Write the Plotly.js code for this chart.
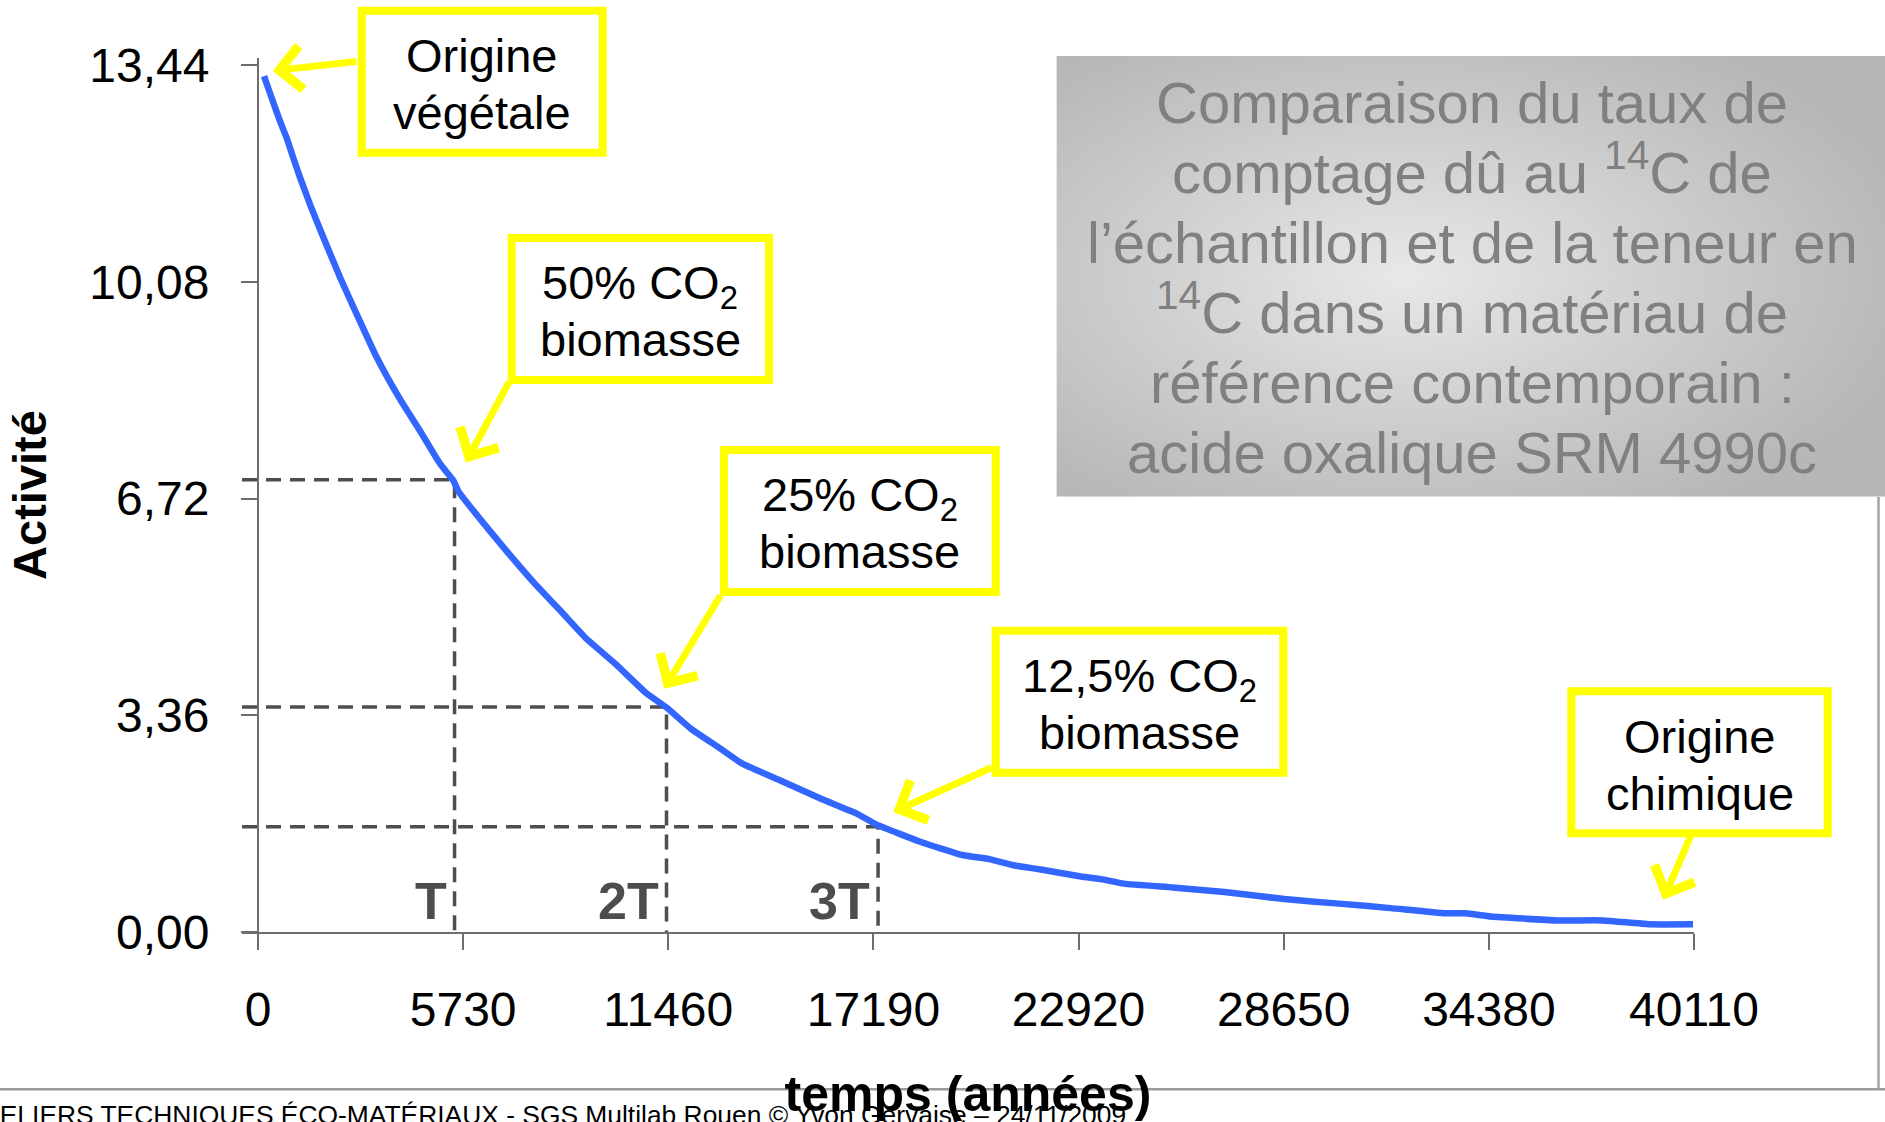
<!DOCTYPE html>
<html>
<head>
<meta charset="utf-8">
<script src="https://cdn.plot.ly/plotly-3.0.1.min.js"></script>
<style>
  html, body { margin: 0; padding: 0; background: #ffffff; }
  #chart { width: 1885px; height: 1122px; }
</style>
</head>
<body>
<div id="chart"></div>
<script>
// ---------- data ----------
const years = [168, 382, 614, 801, 986, 1173, 1452, 1824, 2290, 2756, 3315, 3966, 4524, 5083, 5455,
  5611, 6237, 6921, 7731, 8480, 9167, 9977, 10848, 11410, 12097, 12845, 13530, 14591, 15711, 16711,
  17297, 18498, 19699, 20423, 21143, 21863, 22986, 23545, 24187, 25550, 26992, 28672, 30196, 31639,
  33162, 33722, 34443, 36287, 37567, 38851, 40083];
const activity = [13.27, 12.93, 12.57, 12.31, 12.00, 11.70, 11.28, 10.77, 10.15, 9.58, 8.91, 8.26, 7.77, 7.26, 7.00,
  6.82, 6.38, 5.92, 5.40, 4.96, 4.55, 4.16, 3.70, 3.48, 3.15, 2.87, 2.61, 2.35, 2.07, 1.84,
  1.66, 1.40, 1.19, 1.13, 1.03, 0.97, 0.86, 0.82, 0.75, 0.69, 0.62, 0.51, 0.44, 0.37,
  0.29, 0.29, 0.24, 0.18, 0.18, 0.12, 0.12];

const xTickValues = [0, 5730, 11460, 17190, 22920, 28650, 34380, 40110];
const xTickLabels = ['0', '5730', '11460', '17190', '22920', '28650', '34380', '40110'];
const yTickValues = [0, 3.36, 6.72, 10.08, 13.44];
const yTickLabels = ['0,00', '3,36', '6,72', '10,08', '13,44'];

// half-life guide lines (T, 2T, 3T)
const periodLabels = ['T', '2T', '3T'];
const periodYears = [5490, 11410, 17320];
const periodActivity = [7.01, 3.49, 1.63];

// yellow call-outs: arrow head and arrow tail in data units
const calloutLines = [
  ['Origine', 'végétale'],
  ['50% CO<sub>2</sub>', 'biomasse'],
  ['25% CO<sub>2</sub>', 'biomasse'],
  ['12,5% CO<sub>2</sub>', 'biomasse'],
  ['Origine', 'chimique']
];
const calloutHeadYears = [410, 5804, 11348, 17744, 39251];
const calloutHeadActivity = [13.35, 7.28, 3.77, 1.86, 0.50];
const calloutTailYears = [2793, 7038, 12943, 20537, 40088];
const calloutTailActivity = [13.50, 8.55, 5.24, 2.56, 1.58];

const infoLines = [
  'Comparaison du taux de',
  'comptage dû au <sup>14</sup>C de',
  'l’échantillon et de la teneur en',
  '<sup>14</sup>C dans un matériau de',
  'référence contemporain :',
  'acide oxalique SRM 4990c'
];
const footerText = 'ATELIERS TECHNIQUES ÉCO-MATÉRIAUX - SGS Multilab Rouen © Yvon Gervaise – 24/11/2009';

// ---------- layout geometry (pixels of the 1885 x 1122 page) ----------
const W = 1885, H = 1122;
const M = { l: 242, r: 191, t: 58, b: 190 };
const PW = W - M.l - M.r, PH = H - M.t - M.b;
const fx = p => (p - M.l) / PW;
const fy = p => (M.t + PH - p) / PH;
const xRange = [-447, 40110];
const yRange = [0, 13.55];
const FONT = 'Liberation Sans, Arial, Helvetica, sans-serif';
const YELLOW = '#ffff00';

// call-out boxes [left, top, right, bottom] outer edges, pixels
const calloutBoxes = [
  [357.7, 6.7, 606.7, 156.7],
  [507.7, 234, 773, 384],
  [720, 446, 999.7, 596],
  [991.7, 626.7, 1287.3, 776.7],
  [1567.3, 687.3, 1831.7, 837.3]
];

// ---------- traces ----------
const traces = [];
periodYears.forEach((t, i) => {
  traces.push({
    type: 'scatter', mode: 'lines',
    x: [xRange[0], t, t], y: [periodActivity[i], periodActivity[i], 0],
    line: { color: '#4d4d4d', width: 3.5, dash: '15px,9px' },
    hoverinfo: 'skip', showlegend: false
  });
});
traces.push({
  type: 'scatter', mode: 'lines', x: years, y: activity,
  line: { color: '#3366ff', width: 6.5, shape: 'spline', smoothing: 0.4 },
  showlegend: false
});

// ---------- shapes, annotations ----------
const shapes = [];
const annotations = [];
const BW = 8;
calloutBoxes.forEach((b, i) => {
  shapes.push({
    type: 'rect', xref: 'paper', yref: 'paper', layer: 'above',
    x0: fx(b[0] + BW / 2), x1: fx(b[2] - BW / 2), y0: fy(b[3] - BW / 2), y1: fy(b[1] + BW / 2),
    line: { color: YELLOW, width: BW }, fillcolor: 'rgba(255,255,255,0)'
  });
  const cx = (b[0] + b[2]) / 2, cy = (b[1] + b[3]) / 2;
  const fs = 47;
  const baselines = [cy - 11, cy + 46];
  calloutLines[i].forEach((txt, k) => {
    annotations.push({
      xref: 'paper', yref: 'paper', x: fx(cx), y: fy(baselines[k] - 0.905 * fs - 1),
      xanchor: 'center', yanchor: 'top', showarrow: false, text: txt,
      font: { family: FONT, size: fs, color: '#000000' }
    });
  });
  annotations.push({
    xref: 'x', yref: 'y', axref: 'x', ayref: 'y',
    x: calloutHeadYears[i], y: calloutHeadActivity[i],
    ax: calloutTailYears[i], ay: calloutTailActivity[i],
    text: '', showarrow: true, arrowhead: 4, arrowsize: 1.2,
    arrowwidth: 7, arrowcolor: YELLOW, standoff: 0, startstandoff: 0
  });
});

// half-life labels
periodLabels.forEach((lab, i) => {
  annotations.push({
    xref: 'x', yref: 'paper', x: periodYears[i], y: fy(918.3 - 0.905 * 52 - 1),
    xanchor: 'right', yanchor: 'top', xshift: -6, showarrow: false, text: '<b>' + lab + '</b>',
    font: { family: FONT, size: 52, color: '#4d4d4d' }
  });
});

// grey information panel
const gradSvg = "<svg xmlns='http://www.w3.org/2000/svg' width='830' height='441' viewBox='0 0 830 441' preserveAspectRatio='none'>" +
  "<defs><radialGradient id='g' cx='0.42' cy='0.5' r='0.62'>" +
  "<stop offset='0' stop-color='#e8e8e8'/><stop offset='1' stop-color='#b7b7b7'/></radialGradient></defs>" +
  "<rect width='830' height='441' fill='url(#g)'/></svg>";
const images = [{
  source: 'data:image/svg+xml;charset=utf-8,' + encodeURIComponent(gradSvg),
  xref: 'paper', yref: 'paper', x: fx(1056.4), y: fy(56), xanchor: 'left', yanchor: 'top',
  sizex: (W - 1056.4) / PW, sizey: (496.7 - 56) / PH, sizing: 'stretch', layer: 'below'
}];
infoLines.forEach((txt, k) => {
  const baseline = 123.8 + 70 * k;
  annotations.push({
    xref: 'paper', yref: 'paper', x: fx(1472), y: fy(baseline + 0.212 * 58 + 1),
    xanchor: 'center', yanchor: 'bottom', showarrow: false, text: txt,
    font: { family: FONT, size: 58, color: '#808080' }
  });
});

// slide frame lines and footer
shapes.push({
  type: 'line', xref: 'paper', yref: 'paper', layer: 'below',
  x0: fx(0), x1: fx(W), y0: fy(1089.3), y1: fy(1089.3),
  line: { color: '#9a9a9a', width: 2.5 }
});
shapes.push({
  type: 'line', xref: 'paper', yref: 'paper', layer: 'below',
  x0: fx(1878.5), x1: fx(1878.5), y0: fy(497), y1: fy(1089.3),
  line: { color: '#a3a3a3', width: 2.5 }
});
annotations.push({
  xref: 'paper', yref: 'paper', x: fx(-34), y: fy(1125 + 0.212 * 26.4 + 1),
  xanchor: 'left', yanchor: 'bottom', showarrow: false, text: footerText,
  font: { family: FONT, size: 26.4, color: '#000000' }
});

const axisCommon = {
  showgrid: false, zeroline: false, showline: true, linecolor: '#6e6e6e', linewidth: 2,
  ticks: 'outside', ticklen: 16, tickwidth: 2, tickcolor: '#6e6e6e',
  tickfont: { family: FONT, size: 48, color: '#000000' }, automargin: false, fixedrange: true
};

const layout = {
  width: W, height: H,
  margin: M,
  paper_bgcolor: '#ffffff', plot_bgcolor: '#ffffff',
  showlegend: false,
  font: { family: FONT },
  xaxis: Object.assign({}, axisCommon, {
    range: xRange, tickmode: 'array', tickvals: xTickValues, ticktext: xTickLabels,
    ticklabelstandoff: 18,
    title: { text: '<b>temps (années)</b>', font: { family: FONT, size: 50, color: '#000000' }, standoff: 48 }
  }),
  yaxis: Object.assign({}, axisCommon, {
    range: yRange, tickmode: 'array', tickvals: yTickValues, ticktext: yTickLabels,
    anchor: 'free', position: fx(258),
    ticklabelstandoff: 22,
    title: { text: '<b>Activité</b>', font: { family: FONT, size: 47, color: '#000000' }, standoff: 27 }
  }),
  shapes: shapes,
  annotations: annotations,
  images: images
};

Plotly.newPlot('chart', traces, layout, { staticPlot: true, displayModeBar: false });
</script>
</body>
</html>
